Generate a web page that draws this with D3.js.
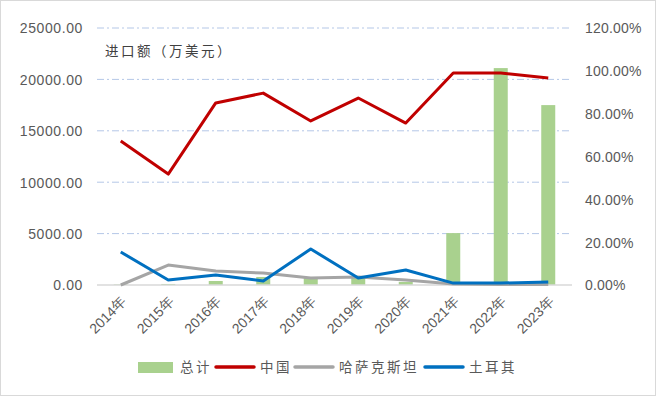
<!DOCTYPE html>
<html>
<head>
<meta charset="utf-8">
<script src="https://cdn.jsdelivr.net/npm/d3@7"></script>
<style>
  body { margin: 0; background: #fff; }
  svg { font-family: "Noto Sans CJK SC", "Noto Sans", sans-serif; }
</style>
</head>
<body>
<script>
const years = ["2014年", "2015年", "2016年", "2017年", "2018年", "2019年", "2020年", "2021年", "2022年", "2023年"];
// 总计 (left axis, 万美元)
const total = [50, 100, 390, 780, 720, 680, 300, 5050, 21100, 17500];
// shares (right axis, %)
const china = [67.2, 51.8, 85.0, 89.6, 76.6, 87.3, 75.6, 99.0, 99.0, 96.7];
const kazakhstan = [0, 9.3, 6.5, 5.6, 3.3, 3.7, 2.3, 0.5, 0.2, 0.2];
const turkey = [15.4, 2.3, 4.7, 1.9, 16.8, 3.3, 7.0, 0.9, 0.9, 1.4];
const leftTicks = [0, 5000, 10000, 15000, 20000, 25000];
const rightTicks = [0, 20, 40, 60, 80, 100, 120];

const W = 656, H = 396;
const m = { left: 97, right: 84, top: 28, bottom: 111 };

const svg = d3.select("body").append("svg").attr("width", W).attr("height", H);

svg.append("rect")
  .attr("x", 0.5).attr("y", 0.5).attr("width", W - 1).attr("height", H - 1)
  .attr("fill", "#fff").attr("stroke", "#d9d9d9");

const x = d3.scaleBand().domain(years).range([m.left, W - m.right]);
const yL = d3.scaleLinear().domain([0, 25000]).range([H - m.bottom, m.top]);
const yR = d3.scaleLinear().domain([0, 120]).range([H - m.bottom, m.top]);

// gridlines
svg.append("g").selectAll("line")
  .data(leftTicks.filter(d => d > 0))
  .enter().append("line")
    .attr("x1", m.left).attr("x2", W - m.right)
    .attr("y1", d => yL(d)).attr("y2", d => yL(d))
    .attr("stroke", "#b4c7e7").attr("stroke-width", 1)
    .attr("stroke-dasharray", "7,3,2,3");

// bars
svg.append("g").selectAll("rect")
  .data(total)
  .enter().append("rect")
    .attr("x", (d, i) => x(years[i]) + x.bandwidth() / 2 - 7)
    .attr("width", 14)
    .attr("y", d => yL(d))
    .attr("height", d => yL(0) - yL(d))
    .attr("fill", "#a9d18e");

// baseline
svg.append("line")
  .attr("x1", m.left).attr("x2", W - m.right)
  .attr("y1", yL(0)).attr("y2", yL(0))
  .attr("stroke", "#d9d9d9").attr("stroke-width", 1.3);

// lines
const line = d3.line()
  .x((d, i) => x(years[i]) + x.bandwidth() / 2)
  .y(d => yR(d));
const series = [
  { name: "哈萨克斯坦", values: kazakhstan, color: "#a5a5a5" },
  { name: "中国", values: china, color: "#c00000" },
  { name: "土耳其", values: turkey, color: "#0070c0" }
];
series.forEach(s => {
  svg.append("path")
    .attr("d", line(s.values))
    .attr("fill", "none")
    .attr("stroke", s.color)
    .attr("stroke-width", 3)
    .attr("stroke-linejoin", "round");
});

// left axis
const axL = svg.append("g")
  .attr("transform", `translate(${m.left - 11},0)`)
  .call(d3.axisLeft(yL).tickValues(leftTicks).tickFormat(d3.format(".2f")).tickSize(0));
axL.select(".domain").remove();
axL.selectAll("text")
  .attr("fill", "#595959").attr("font-size", 14).attr("letter-spacing", 0.6).attr("dy", "0.35em");

// right axis
const axR = svg.append("g")
  .attr("transform", `translate(${W - m.right + 10},0)`)
  .call(d3.axisRight(yR).tickValues(rightTicks).tickFormat(d => d3.format(".2f")(d) + "%").tickSize(0));
axR.select(".domain").remove();
axR.selectAll("text")
  .attr("fill", "#595959").attr("font-size", 14).attr("letter-spacing", 0.2).attr("dy", "0.35em");

// x axis
const axX = svg.append("g")
  .attr("transform", `translate(0,${H - m.bottom})`)
  .call(d3.axisBottom(x).tickSize(0));
axX.select(".domain").remove();
axX.selectAll("text")
  .attr("fill", "#595959").attr("font-size", 14)
  .attr("text-anchor", "end")
  .attr("transform", "translate(3,14) rotate(-45)")
  .attr("dy", "0.35em").attr("y", 0);

// unit title
svg.append("text")
  .attr("x", 105).attr("y", 56)
  .attr("fill", "#404040").attr("font-size", 13.5).attr("letter-spacing", 2.5)
  .text("进口额（万美元）");

// legend
const leg = svg.append("g").attr("transform", "translate(0,367)");
const items = [
  { name: "总计", color: "#a9d18e", bar: true, x: 138 },
  { name: "中国", color: "#c00000", x: 216 },
  { name: "哈萨克斯坦", color: "#a5a5a5", x: 295 },
  { name: "土耳其", color: "#0070c0", x: 425 }
];
items.forEach(it => {
  if (it.bar) {
    leg.append("rect").attr("x", it.x).attr("y", -5).attr("width", 35).attr("height", 11).attr("fill", it.color);
  } else {
    leg.append("line").attr("x1", it.x).attr("x2", it.x + 38).attr("y1", 0).attr("y2", 0)
      .attr("stroke", it.color).attr("stroke-width", 3.5).attr("stroke-linecap", "round");
  }
  leg.append("text").attr("x", it.x + (it.bar ? 42 : 44)).attr("y", 0).attr("dy", "0.35em")
    .attr("fill", "#595959").attr("font-size", 13.5).attr("letter-spacing", 2.5)
    .text(it.name);
});
</script>
</body>
</html>
